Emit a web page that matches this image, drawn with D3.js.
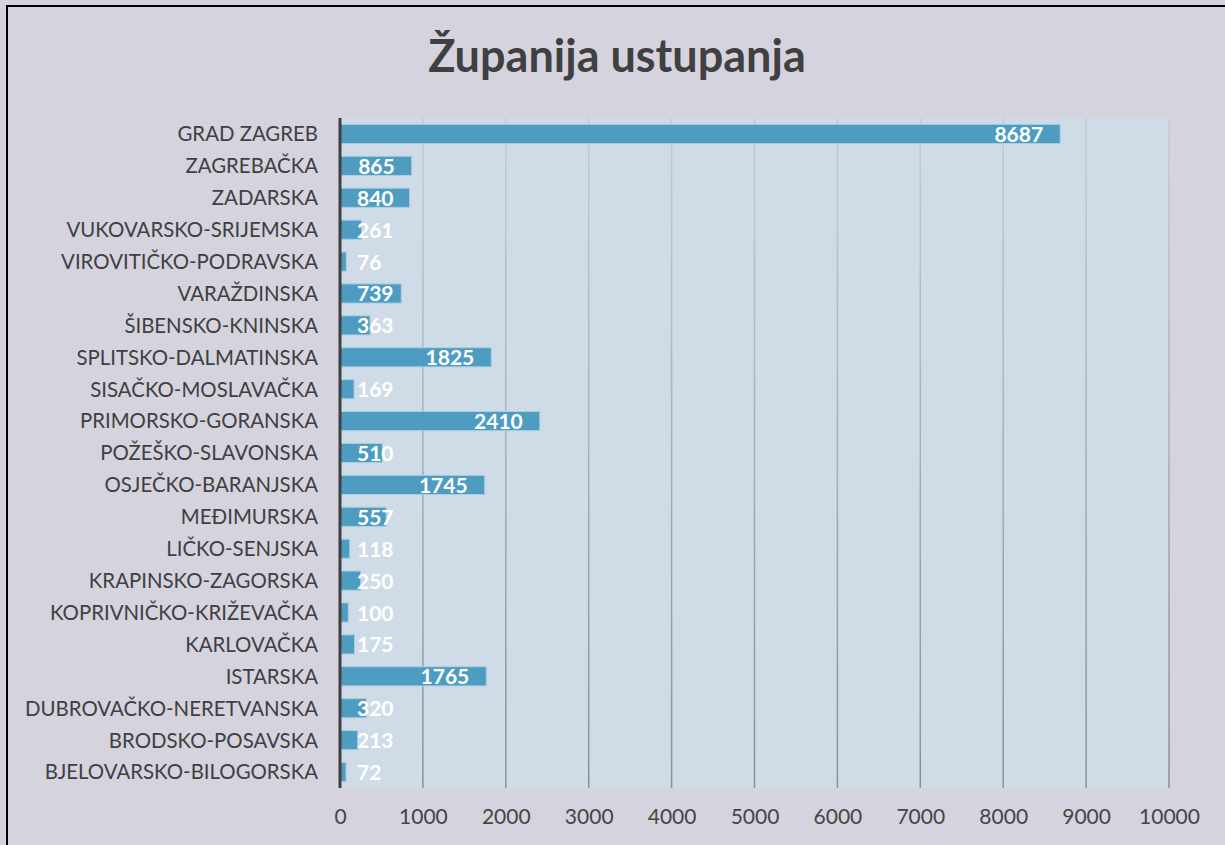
<!DOCTYPE html>
<html>
<head>
<meta charset="utf-8">
<script src="https://cdn.jsdelivr.net/npm/d3@7"></script>
<style>
  html, body { margin: 0; padding: 0; background: #d4d3de; }
  svg { display: block; font-family: Lato, "Open Sans", sans-serif; }
</style>
</head>
<body>
<div id="chart"></div>
<script>
const categories = [
    'GRAD ZAGREB', 'ZAGREBAČKA', 'ZADARSKA', 'VUKOVARSKO-SRIJEMSKA', 'VIROVITIČKO-PODRAVSKA',
    'VARAŽDINSKA', 'ŠIBENSKO-KNINSKA', 'SPLITSKO-DALMATINSKA', 'SISAČKO-MOSLAVAČKA',
    'PRIMORSKO-GORANSKA', 'POŽEŠKO-SLAVONSKA', 'OSJEČKO-BARANJSKA', 'MEĐIMURSKA',
    'LIČKO-SENJSKA', 'KRAPINSKO-ZAGORSKA', 'KOPRIVNIČKO-KRIŽEVAČKA', 'KARLOVAČKA',
    'ISTARSKA', 'DUBROVAČKO-NERETVANSKA', 'BRODSKO-POSAVSKA', 'BJELOVARSKO-BILOGORSKA'
];
const values = [8687, 865, 840, 261, 76, 739, 363, 1825, 169, 2410, 510, 1745, 557, 118, 250, 100, 175, 1765, 320, 213, 72];
const xTicks = [0, 1000, 2000, 3000, 4000, 5000, 6000, 7000, 8000, 9000, 10000];
const title = 'Županija ustupanja';

const w = 1225;
const h = 845;
const plotLeft = 340, plotRight = 1169, plotTop = 118, plotBottom = 788;

const svg = d3.select('#chart')
    .append('svg')
    .attr('width', w)
    .attr('height', h);

// outer frame
svg.append('rect')
    .attr('x', 7).attr('y', 6)
    .attr('width', w + 20).attr('height', h + 20)
    .attr('fill', '#d4d3de')
    .attr('stroke', '#000')
    .attr('stroke-width', 2);

const xScale = d3.scaleLinear().domain([0, 10000]).range([plotLeft, plotRight]);
const yScale = d3.scaleBand().domain(categories).range([plotTop, plotBottom]).paddingInner(0.4).paddingOuter(0.2);

// plot area
svg.append('rect')
    .attr('x', plotLeft).attr('y', plotTop)
    .attr('width', plotRight - plotLeft).attr('height', plotBottom - plotTop)
    .attr('fill', '#cfdbe6');

const grad = svg.append('defs').append('linearGradient')
    .attr('id', 'gridFade')
    .attr('gradientUnits', 'userSpaceOnUse')
    .attr('x1', 0).attr('y1', plotTop).attr('x2', 0).attr('y2', plotBottom);
grad.append('stop').attr('offset', '0%').attr('stop-color', '#c2ccd6');
grad.append('stop').attr('offset', '100%').attr('stop-color', '#8a9196');

// gridlines
svg.append('g')
    .selectAll('line')
    .data(xTicks.slice(1))
    .enter()
    .append('line')
    .attr('x1', d => xScale(d)).attr('x2', d => xScale(d))
    .attr('y1', plotTop).attr('y2', plotBottom)
    .attr('stroke', 'url(#gridFade)')
    .attr('stroke-width', 1.5);

// x axis labels
const xAxis = d3.axisBottom(xScale).tickValues(xTicks).tickFormat(d3.format('d')).tickSize(0).tickPadding(21);
svg.append('g')
    .attr('transform', `translate(0, ${plotBottom})`)
    .call(xAxis)
    .call(g => g.select('.domain').remove())
    .call(g => g.selectAll('text')
        .attr('fill', '#454545')
        .style('font-size', '21px')
        .style('font-family', 'Lato, sans-serif'));

// y axis labels
const yAxis = d3.axisLeft(yScale).tickSize(0).tickPadding(22);
svg.append('g')
    .attr('transform', `translate(${plotLeft}, 0)`)
    .call(yAxis)
    .call(g => g.select('.domain').remove())
    .call(g => g.selectAll('text')
        .attr('fill', '#404040')
        .attr('dy', '0.36em')
        .style('font-size', '20.4px')
        .style('font-family', 'Lato, sans-serif'));

// bars
svg.append('g')
    .selectAll('rect')
    .data(values)
    .enter()
    .append('rect')
    .attr('x', xScale(0))
    .attr('y', (d, i) => yScale(categories[i]))
    .attr('width', d => xScale(d) - xScale(0))
    .attr('height', yScale.bandwidth())
    .attr('fill', '#4799c0')
    .attr('fill-opacity', 0.95)
    .attr('stroke', '#a9cfe0')
    .attr('stroke-width', 1);

// value labels
const labels = svg.append('g')
    .selectAll('text')
    .data(values)
    .enter()
    .append('text')
    .attr('y', (d, i) => yScale(categories[i]) + yScale.bandwidth() / 2)
    .attr('dy', '0.38em')
    .attr('text-anchor', 'end')
    .attr('fill', '#ffffff')
    .style('font-size', '21px')
    .style('font-weight', 'bold')
    .text(d => d);

labels.attr('x', function (d) {
    const tw = this.getComputedTextLength();
    return Math.max(xScale(d) - 17, xScale(0) + 17 + tw);
});

// axis line
svg.append('line')
    .attr('x1', xScale(0)).attr('x2', xScale(0))
    .attr('y1', plotTop).attr('y2', plotBottom)
    .attr('stroke', '#404040')
    .attr('stroke-width', 3);

// title
svg.append('text')
    .attr('x', 617)
    .attr('y', 72)
    .attr('text-anchor', 'middle')
    .attr('fill', '#404040')
    .style('font-size', '45px')
    .style('font-weight', 'bold')
    .text(title);
</script>
</body>
</html>
